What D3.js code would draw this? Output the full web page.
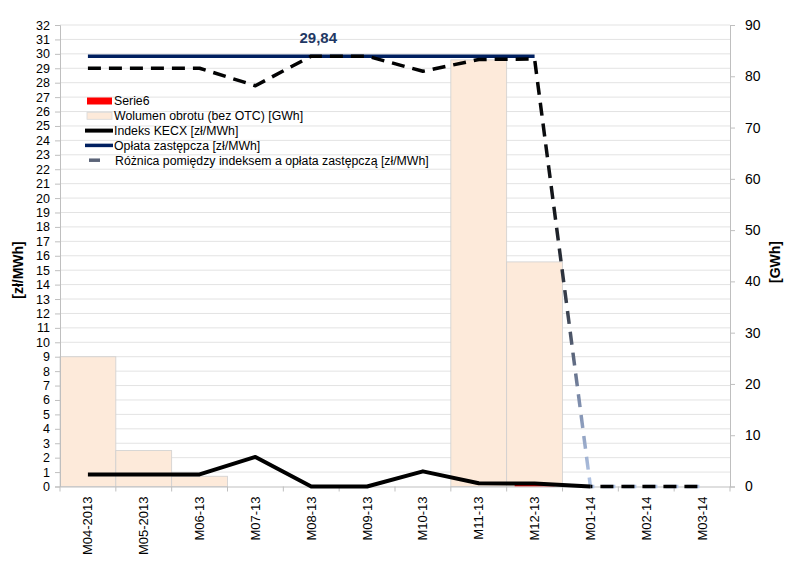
<!DOCTYPE html>
<html>
<head>
<meta charset="utf-8">
<script src="https://cdn.jsdelivr.net/npm/d3@7"></script>
<style>
  body { margin: 0; background: #fff; }
  text { font-family: "Liberation Sans", Arial, sans-serif; }
</style>
</head>
<body>
<svg width="785" height="572"></svg>
<script>
// chart data
const categories = ["M04-2013", "M05-2013", "M06-13", "M07-13", "M08-13", "M09-13",
  "M10-13", "M11-13", "M12-13", "M01-14", "M02-14", "M03-14"];
const wolumen = [25.3, 7.0, 2.0, 0, 0, 0, 0, 83.2, 43.8, 0, 0, 0];      // GWh, right axis
const serie6 = [0, 0, 0, 0, 0, 0, 0, 0, 0.15, 0, 0, 0];                  // left axis
const indeks = [0.84, 0.84, 0.84, 2.05, 0, 0, 1.05, 0.23, 0.2, 0, null, null];
const oplata = [29.84, 29.84, 29.84, 29.84, 29.84, 29.84, 29.84, 29.84, 29.84, null, null, null];
const roznica = [29.0, 29.0, 29.0, 27.79, 29.84, 29.84, 28.79, 29.61, 29.64, 0, 0, 0];
const leftTicks = d3.range(0, 33, 1);
const rightTicks = d3.range(0, 91, 10);
const legendNames = ["Serie6", "Wolumen obrotu (bez OTC) [GWh]", "Indeks KECX [zł/MWh]",
  "Opłata zastępcza [zł/MWh]", "Różnica pomiędzy indeksem a opłata zastępczą [zł/MWh]"];

const svg = d3.select("svg");
const mLeft = 60, mRight = 730, mTop = 25, mBottom = 486.5;
const font = "Liberation Sans, Arial, sans-serif";

const x = d3.scaleBand().domain(categories).range([mLeft, mRight]).padding(0);
const yL = d3.scaleLinear().domain([0, 32]).range([mBottom, mTop]);
const yR = d3.scaleLinear().domain([0, 90]).range([mBottom, mTop]);
const cx = d => x(d) + x.bandwidth() / 2;

// gridlines
svg.append("g").selectAll("line").data(leftTicks.filter(t => t > 0)).join("line")
  .attr("x1", mLeft).attr("x2", mRight)
  .attr("y1", d => yL(d)).attr("y2", d => yL(d))
  .attr("stroke", "#e3e3e3").attr("stroke-width", 1);

// bars (right axis)
svg.append("g").selectAll("rect").data(categories).join("rect")
  .attr("x", d => x(d))
  .attr("width", x.bandwidth())
  .attr("y", (d, i) => yR(wolumen[i]))
  .attr("height", (d, i) => mBottom - yR(wolumen[i]))
  .attr("fill", "#fdeada")
  .attr("stroke", (d, i) => wolumen[i] > 0 ? "#cfcfcf" : "none")
  .attr("stroke-width", 0.8);

// Serie6 (tiny red bar)
svg.append("g").selectAll("rect").data(categories).join("rect")
  .attr("x", d => x(d) + 8)
  .attr("width", x.bandwidth() - 16)
  .attr("y", (d, i) => yL(serie6[i]))
  .attr("height", (d, i) => mBottom - yL(serie6[i]))
  .attr("fill", "#ff0000");

// axes
const axL = svg.append("g").attr("transform", `translate(${mLeft},0)`)
  .call(d3.axisLeft(yL).tickValues(leftTicks).tickSize(5).tickPadding(5));
const axR = svg.append("g").attr("transform", `translate(${mRight},0)`)
  .call(d3.axisRight(yR).tickValues(rightTicks).tickSize(5).tickPadding(10));
const axB = svg.append("g").attr("transform", `translate(0,${mBottom})`)
  .call(d3.axisBottom(x).tickSize(0).tickPadding(8));

[axL, axR].forEach(a => {
  a.select(".domain").attr("stroke", "#bfbfbf");
  a.selectAll(".tick line").attr("stroke", "#bfbfbf");
  a.selectAll(".tick text").attr("font-size", 12.5).attr("fill", "#000")
    .attr("font-family", font);
});
axR.selectAll(".tick text").attr("font-size", 14);
axB.select(".domain").attr("stroke", "#bfbfbf");
axB.selectAll(".tick text")
  .attr("font-size", 13).attr("font-family", font).attr("fill", "#000")
  .attr("transform", "rotate(-90)")
  .attr("text-anchor", "end").attr("dx", "-10").attr("dy", "0.35em").attr("x", 0).attr("y", 0);

// category boundary ticks
svg.append("g").selectAll("line").data(d3.range(categories.length + 1)).join("line")
  .attr("x1", i => mLeft + i * x.bandwidth()).attr("x2", i => mLeft + i * x.bandwidth())
  .attr("y1", mBottom).attr("y2", mBottom + 5)
  .attr("stroke", "#bfbfbf");

// axis titles
svg.append("text").attr("transform", "translate(23,270) rotate(-90)")
  .attr("text-anchor", "middle").attr("font-size", 14).attr("font-weight", "bold")
  .text("[zł/MWh]");
svg.append("text").attr("transform", "translate(780,262) rotate(-90)")
  .attr("text-anchor", "middle").attr("font-size", 14).attr("font-weight", "bold")
  .text("[GWh]");

// gradient for the Różnica line
const defs = svg.append("defs");
const grad = defs.append("linearGradient").attr("id", "rozGrad")
  .attr("gradientUnits", "userSpaceOnUse")
  .attr("x1", 0).attr("x2", 0).attr("y1", yL(29.84)).attr("y2", yL(0));
[[0, "#000000"], [0.35, "#15181d"], [0.6, "#3d4452"], [0.8, "#7d8cab"], [1, "#b4c7e7"]]
  .forEach(s => grad.append("stop").attr("offset", s[0]).attr("stop-color", s[1]));

const lineGen = arr => d3.line()
  .defined((d, i) => arr[i] !== null)
  .x(d => cx(d))
  .y((d, i) => yL(arr[i]));

// Opłata zastępcza
svg.append("path").attr("d", lineGen(oplata)(categories))
  .attr("fill", "none").attr("stroke", "#002060").attr("stroke-width", 3.5);

// Różnica dashed
svg.append("path").attr("d", lineGen(roznica)(categories))
  .attr("fill", "none").attr("stroke", "url(#rozGrad)").attr("stroke-width", 3.5)
  .attr("stroke-dasharray", "13,8").attr("stroke-linejoin", "round");

// zero segment: black dashes between the light ones
const zeroIdx = roznica.map((v, i) => v === 0 ? i : -1).filter(i => i >= 0);
const zeroCats = zeroIdx.map(i => categories[i]);
svg.append("path")
  .attr("d", d3.line().x(d => cx(d)).y(d => yL(0))(zeroCats))
  .attr("fill", "none").attr("stroke", "#000").attr("stroke-width", 3.5)
  .attr("stroke-dasharray", "13,8").attr("stroke-dashoffset", -10);

// Indeks KECX
svg.append("path").attr("d", lineGen(indeks)(categories))
  .attr("fill", "none").attr("stroke", "#000").attr("stroke-width", 4)
  .attr("stroke-linejoin", "round");

// data label
svg.append("text")
  .attr("x", cx("M08-13") + 7).attr("y", yL(oplata[4]) - 13)
  .attr("text-anchor", "middle").attr("font-size", 15).attr("font-weight", "bold")
  .attr("fill", "#1f3864").text("29,84");

// legend
const lg = svg.append("g").attr("transform", "translate(85,101)");
const rowH = 14.8;
legendNames.forEach((name, i) => {
  const g = lg.append("g").attr("transform", `translate(0,${i * rowH})`);
  if (i === 0) g.append("rect").attr("x", 2).attr("y", -3.5).attr("width", 25).attr("height", 7).attr("fill", "#ff0000");
  if (i === 1) g.append("rect").attr("x", 2).attr("y", -3.5).attr("width", 25).attr("height", 7)
    .attr("fill", "#fdeada").attr("stroke", "#d8d8d8").attr("stroke-width", 0.8);
  if (i === 2) g.append("line").attr("x1", 0).attr("x2", 28).attr("stroke", "#000").attr("stroke-width", 4);
  if (i === 3) g.append("line").attr("x1", 0).attr("x2", 28).attr("stroke", "#002060").attr("stroke-width", 3.5);
  if (i === 4) g.append("line").attr("x1", 4).attr("x2", 15).attr("stroke", "#5b6478").attr("stroke-width", 3.5);
  g.append("text").attr("x", i === 4 ? 30 : 29).attr("y", 0).attr("dy", "0.35em")
    .attr("font-size", 12.3).attr("fill", "#000").text(name);
});
</script>
</body>
</html>
